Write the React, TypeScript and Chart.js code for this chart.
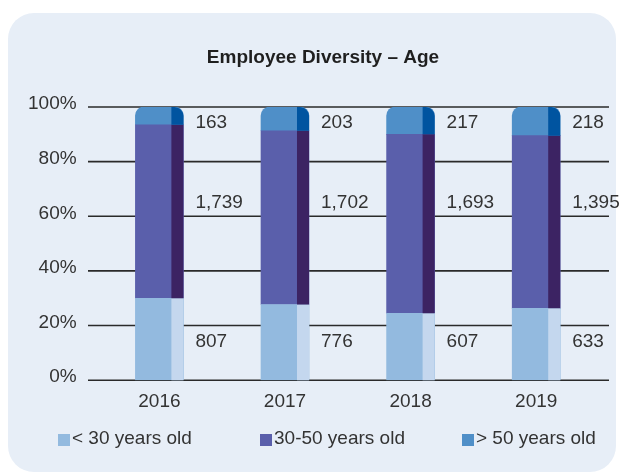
import { useEffect, useRef } from "react";
import { Chart, registerables } from "chart.js";

Chart.register(...registerables);

// ---- data ----
const years = ["2016", "2017", "2018", "2019"];
const seriesNames = ["< 30 years old", "30-50 years old", "> 50 years old"];
// bar heights (% of headcount) as drawn
const under30Share = [30, 27.7, 24.5, 26.3];
const midShare = [63.5, 63.6, 65.5, 63.2];
const over50Share = [6.5, 8.7, 10, 10.5];
// headcount labels
const under30Count = [807, 776, 607, 633];
const midCount = [1739, 1702, 1693, 1395];
const over50Count = [163, 203, 217, 218];
const yTicks = [0, 20, 40, 60, 80, 100];

// ---- styling ----
const FONT = "'Liberation Sans', Arial, Helvetica, sans-serif";
const TEXT = "#333333";
const frontColors = ["#93badf", "#5a5fab", "#4f8fc8"];
const sideColors = ["#c4d7ee", "#3c2363", "#0054a0"];
const labelLevels = [14, 65, 94.3];
const counts = [under30Count, midCount, over50Count];

const panelPlugin = {
  id: "panel",
  beforeDraw(chart: any) {
    const ctx = chart.ctx;
    ctx.save();
    ctx.fillStyle = "#e7eef7";
    ctx.beginPath();
    ctx.roundRect(8, 13, 608, 459, 26);
    ctx.fill();
    ctx.fillStyle = "#1f1f1f";
    ctx.font = `bold 19px ${FONT}`;
    ctx.textAlign = "center";
    ctx.textBaseline = "middle";
    ctx.fillText("Employee Diversity – Age", 323, 58);
    ctx.restore();
  },
};

const gridPlugin = {
  id: "gridLines",
  beforeDatasetsDraw(chart: any) {
    const ctx = chart.ctx;
    const ys = chart.scales.y;
    ctx.save();
    ctx.strokeStyle = "#2a2a2a";
    ctx.lineWidth = 1.6;
    yTicks.forEach((v) => {
      const y = ys.getPixelForValue(v);
      ctx.beginPath();
      ctx.moveTo(88, y);
      ctx.lineTo(609, y);
      ctx.stroke();
    });
    ctx.restore();
  },
};

const sidePlugin = {
  id: "sideAndLabels",
  afterDatasetsDraw(chart: any) {
    const ctx = chart.ctx;
    const ys = chart.scales.y;
    chart.data.datasets.forEach((_ds: any, di: number) => {
      const meta = chart.getDatasetMeta(di);
      meta.data.forEach((bar: any, i: number) => {
        const { x, y, base, width } = bar.getProps(["x", "y", "base", "width"], true);
        const right = x + width / 2;
        const top = Math.min(y, base);
        const bottom = Math.max(y, base);
        ctx.save();
        ctx.fillStyle = sideColors[di];
        ctx.beginPath();
        ctx.roundRect(right - 12, top, 12, bottom - top, di === 2 ? [0, 9, 0, 0] : 0);
        ctx.fill();
        ctx.fillStyle = TEXT;
        ctx.font = `19px ${FONT}`;
        ctx.textAlign = "left";
        ctx.textBaseline = "middle";
        ctx.fillText(counts[di][i].toLocaleString("en-US"), right + 12, ys.getPixelForValue(labelLevels[di]));
        ctx.restore();
      });
    });
  },
};

const legendPlugin = {
  id: "customLegend",
  afterDraw(chart: any) {
    const ctx = chart.ctx;
    ctx.save();
    ctx.font = `19px ${FONT}`;
    ctx.textAlign = "left";
    ctx.textBaseline = "middle";
    chart.data.datasets.forEach((ds: any, i: number) => {
      const x0 = 58 + i * 202;
      ctx.fillStyle = ds.backgroundColor;
      ctx.fillRect(x0, 434, 12, 12);
      ctx.fillStyle = TEXT;
      ctx.fillText(ds.label, x0 + 14, 439);
    });
    ctx.restore();
  },
};

export default function App() {
  const ref = useRef<HTMLCanvasElement | null>(null);

  useEffect(() => {
    if (!ref.current) return;
    const shares = [under30Share, midShare, over50Share];
    const chart = new Chart(ref.current, {
      type: "bar",
      data: {
        labels: years,
        datasets: shares.map((s, i) => ({
          label: seriesNames[i],
          data: s,
          backgroundColor: frontColors[i],
          borderWidth: 0,
          barThickness: 48,
          borderSkipped: false,
          borderRadius:
            i === 2
              ? { topLeft: 9, topRight: 9, bottomLeft: 0, bottomRight: 0 }
              : 0,
        })),
      },
      options: {
        responsive: false,
        animation: false,
        devicePixelRatio: 1,
        layout: { padding: { left: 8, right: 20, top: 107, bottom: 51 } },
        plugins: {
          legend: { display: false },
          title: { display: false },
          tooltip: { enabled: false },
        },
        scales: {
          x: {
            stacked: true,
            grid: { display: false, drawTicks: false },
            border: { display: false },
            ticks: { color: TEXT, font: { family: FONT, size: 19 }, padding: 10 },
          },
          y: {
            stacked: true,
            min: 0,
            max: 100,
            grid: { display: false, drawTicks: false },
            border: { display: false },
            afterBuildTicks: (axis: any) => {
              axis.ticks = yTicks.map((v) => ({ value: v }));
            },
            ticks: {
              color: TEXT,
              font: { family: FONT, size: 19 },
              padding: 20,
              labelOffset: -3,
              callback: (v: any) => `${v}%`,
            },
          },
        },
      },
      plugins: [panelPlugin, gridPlugin, sidePlugin, legendPlugin],
    } as any);
    return () => chart.destroy();
  }, []);

  return (
    <div style={{ position: "fixed", left: 0, top: 0, width: 619, height: 474, background: "#ffffff" }}>
      <canvas ref={ref} width={619} height={474} style={{ display: "block" }} />
    </div>
  );
}
